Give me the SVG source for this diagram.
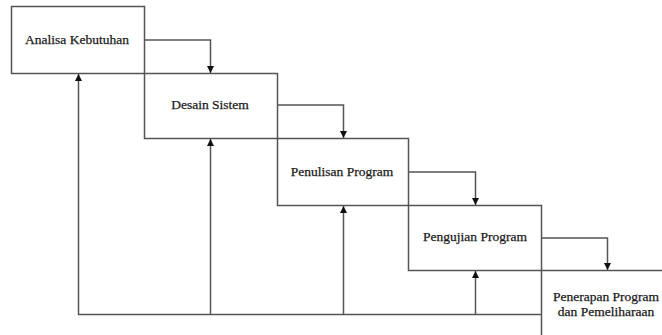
<svg xmlns="http://www.w3.org/2000/svg" width="662" height="335" viewBox="0 0 662 335">
<style>
.box{fill:none;stroke:#555;stroke-width:1.5}
.ln{fill:none;stroke:#555;stroke-width:1.5}
.t{font-family:'Liberation Serif','DejaVu Serif',serif;font-size:13.5px;fill:#1a1a1a;text-anchor:middle;stroke:#1a1a1a;stroke-width:0.25}
</style>
<defs>
<marker id="ah" viewBox="0 0 10 10" refX="10" refY="5" markerWidth="7" markerHeight="7" markerUnits="userSpaceOnUse" orient="auto">
<path d="M0,0 L10,5 L0,10 Z" fill="#111"/>
</marker>
</defs>
<rect width="662" height="335" fill="#fff"/>
<g id="n1"><rect class="box" x="11.5" y="6.5" width="133" height="67"/><text class="t" x="77" y="44">Analisa Kebutuhan</text></g>
<g id="n2"><rect class="box" x="144.5" y="73.5" width="133" height="65"/><text class="t" x="210" y="109">Desain Sistem</text></g>
<g id="n3"><rect class="box" x="277.5" y="138.5" width="131" height="67"/><text class="t" x="342" y="176">Penulisan Program</text></g>
<g id="n4"><rect class="box" x="408.5" y="205.5" width="133" height="65"/><text class="t" x="475" y="241">Pengujian Program</text></g>
<g id="n5"><rect class="box" x="541.5" y="270.5" width="130" height="80"/><text class="t" x="606" y="301">Penerapan Program</text><text class="t" x="606" y="316">dan Pemeliharaan</text></g>
<g id="connectors">
<polyline class="ln" points="145,40 210.5,40 210.5,73" marker-end="url(#ah)"/>
<polyline class="ln" points="278,105 343.5,105 343.5,138" marker-end="url(#ah)"/>
<polyline class="ln" points="409,172 475.5,172 475.5,205" marker-end="url(#ah)"/>
<polyline class="ln" points="542,238 607.5,238 607.5,270" marker-end="url(#ah)"/>
<polyline class="ln" points="541,314.5 78.5,314.5 78.5,74" marker-end="url(#ah)"/>
<line class="ln" x1="210.5" y1="314.5" x2="210.5" y2="139" marker-end="url(#ah)"/>
<line class="ln" x1="343.5" y1="314.5" x2="343.5" y2="206" marker-end="url(#ah)"/>
<line class="ln" x1="475.5" y1="314.5" x2="475.5" y2="271" marker-end="url(#ah)"/>
</g>
</svg>
